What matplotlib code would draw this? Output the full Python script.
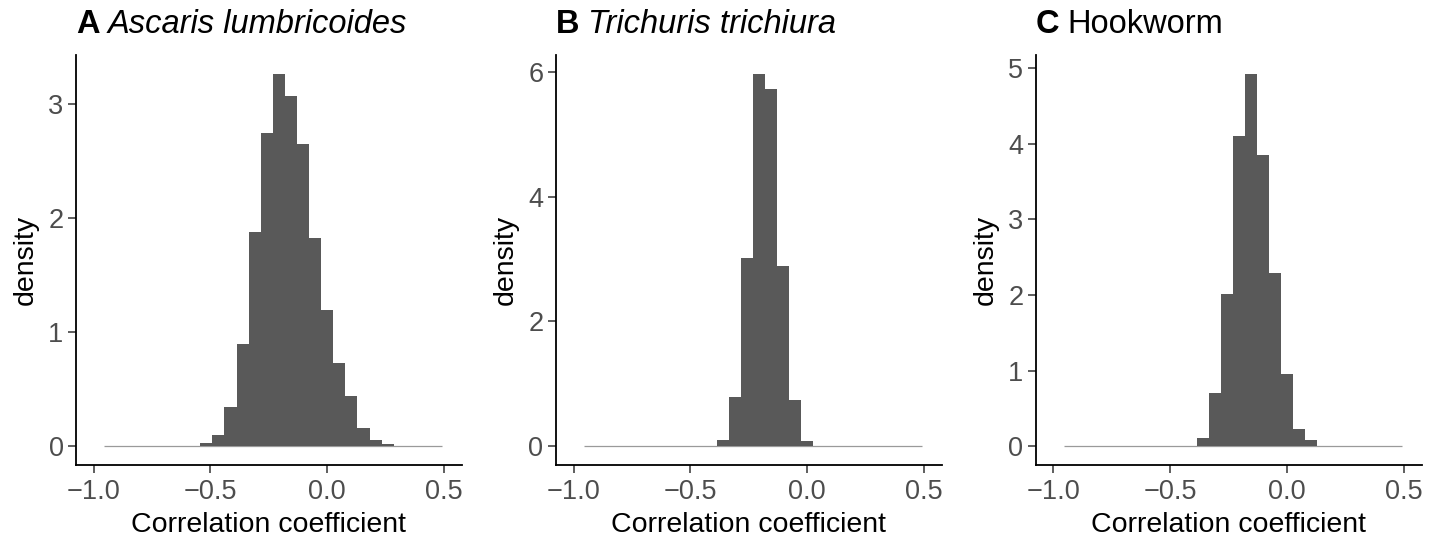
import matplotlib.pyplot as plt
from matplotlib.ticker import FuncFormatter
import numpy as np

plt.rcParams['font.family'] = ['Liberation Sans', 'DejaVu Sans']

# histogram bins (ggplot, 30 bins over xlim(-1, 0.5), outer bins dropped)
bin_width = 0.0517
bin_centers = [-0.931, -0.879, -0.828, -0.776, -0.724, -0.672, -0.621,
               -0.569, -0.517, -0.466, -0.414, -0.362, -0.310, -0.259,
               -0.207, -0.155, -0.103, -0.052, 0.000, 0.052, 0.103,
               0.155, 0.207, 0.259, 0.310, 0.362, 0.414, 0.466]

dens_ascaris = [0, 0, 0, 0, 0, 0, 0,
                0.005, 0.026, 0.096, 0.344, 0.90, 1.88, 2.746,
                3.262, 3.07, 2.65, 1.822, 1.19, 0.726, 0.437,
                0.157, 0.052, 0.017, 0.004, 0, 0, 0]
dens_trichuris = [0, 0, 0, 0, 0, 0, 0,
                  0, 0, 0, 0, 0.096, 0.784, 3.008,
                  5.968, 5.728, 2.88, 0.736, 0.08, 0, 0,
                  0, 0, 0, 0, 0, 0, 0]
dens_hookworm = [0, 0, 0, 0, 0, 0, 0,
                 0, 0, 0, 0.01, 0.11, 0.706, 2.012,
                 4.104, 4.925, 3.853, 2.29, 0.958, 0.229, 0.079,
                 0.003, 0, 0, 0, 0, 0, 0]

panel_letters = ['A', 'B', 'C']
panel_names = ['Ascaris lumbricoides', 'Trichuris trichiura', 'Hookworm']
name_italic = [True, True, False]
y_ticks = [[0, 1, 2, 3], [0, 2, 4, 6], [0, 1, 2, 3, 4, 5]]
x_ticks = [-1.0, -0.5, 0.0, 0.5]
x_limits = (-1.0, 0.5)

bar_color = '#595959'
tick_text = '#4D4D4D'

fig = plt.figure(figsize=(14.4, 5.39), dpi=100)
lefts = [0.0528, 0.3861, 0.7194]
all_dens = [dens_ascaris, dens_trichuris, dens_hookworm]

for i in range(3):
    ax = fig.add_axes([lefts[i], 0.1373, 0.2678, 0.7607])
    dens = all_dens[i]

    # faint baseline where the empty bins sit
    ax.hlines(0, bin_centers[0] - bin_width / 2, bin_centers[-1] + bin_width / 2,
              color='#9a9a9a', lw=0.9, zorder=1)
    ax.bar(bin_centers, dens, width=bin_width, color=bar_color,
           edgecolor='none', linewidth=0, zorder=2)

    xr = x_limits[1] - x_limits[0]
    ax.set_xlim(x_limits[0] - 0.05 * xr, x_limits[1] + 0.05 * xr)
    ymax = max(dens)
    ax.set_ylim(-0.05 * ymax, 1.05 * ymax)

    ax.set_xticks(x_ticks)
    ax.set_yticks(y_ticks[i])
    ax.xaxis.set_major_formatter(FuncFormatter(lambda v, p: f'{v:.1f}'.replace('-', '\u2212')))
    ax.yaxis.set_major_formatter(FuncFormatter(lambda v, p: f'{v:.0f}'))

    for s in ['top', 'right']:
        ax.spines[s].set_visible(False)
    for s in ['left', 'bottom']:
        ax.spines[s].set_linewidth(1.3)
        ax.spines[s].set_color('black')
    ax.tick_params(axis='both', length=5.5, width=1.1, color='#333333',
                   labelcolor=tick_text, labelsize=19.5)
    ax.tick_params(axis='x', pad=4.5)
    ax.tick_params(axis='y', pad=3.5)

    ax.set_xlabel('Correlation coefficient', fontsize=20.5, color='black', labelpad=5)
    ax.set_ylabel('density', fontsize=20.5, color='black', labelpad=7)

    t1 = ax.annotate(panel_letters[i], xy=(0, 1), xycoords='axes fraction',
                     xytext=(0, 15.5), textcoords='offset points',
                     fontsize=23.5, fontweight='bold', va='baseline', ha='left')
    ax.annotate(panel_names[i], xy=(1, 0), xycoords=t1,
                xytext=(6, 0), textcoords='offset points',
                fontsize=23.5, fontstyle='italic' if name_italic[i] else 'normal',
                va='bottom', ha='left')

plt.savefig('out.png', dpi=100)
